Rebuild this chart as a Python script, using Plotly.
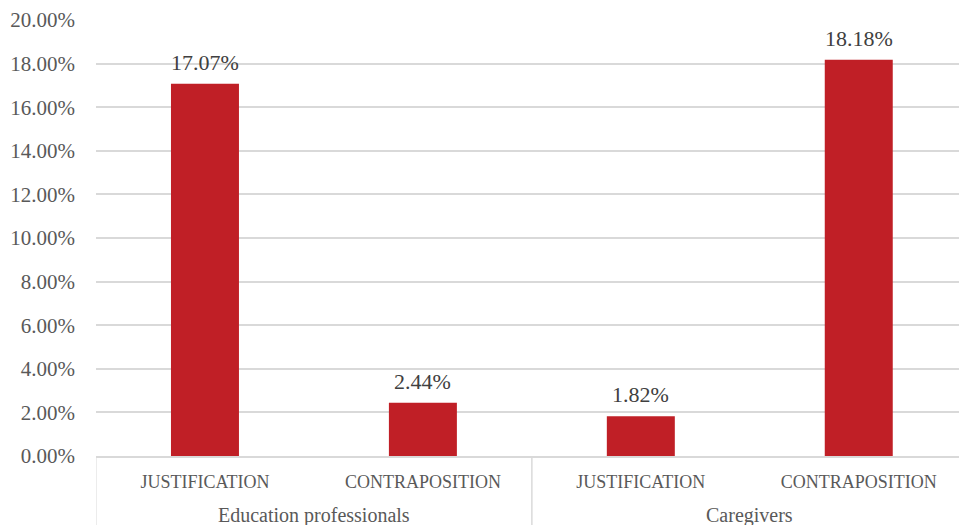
import plotly.graph_objects as go

# Share of responses by respondent group and argument type
groups = ["Education professionals", "Caregivers"]
categories = ["JUSTIFICATION", "CONTRAPOSITION", "JUSTIFICATION", "CONTRAPOSITION"]
group_of_bar = [0, 0, 1, 1]
values = [17.07, 2.44, 1.82, 18.18]
y_ticks = [0, 2, 4, 6, 8, 10, 12, 14, 16, 18, 20]

BAR_COLOR = "#C01F26"
TEXT_COLOR = "#595959"
GRID_COLOR = "#D9D9D9"
FONT = "Liberation Serif"

positions = list(range(len(values)))

fig = go.Figure(
    go.Bar(
        x=positions,
        y=values,
        marker=dict(color=BAR_COLOR, line=dict(width=0)),
        hoverinfo="skip",
    )
)

# Value labels above each bar
for x, v in zip(positions, values):
    fig.add_annotation(
        x=x,
        y=v,
        text=f"{v:.2f}%",
        showarrow=False,
        yanchor="bottom",
        yshift=7,
        font=dict(family=FONT, size=22, color="#404040"),
    )

# Group labels and dividers below the category labels
for g, name in enumerate(groups):
    members = [p for p, k in zip(positions, group_of_bar) if k == g]
    fig.add_annotation(
        x=sum(members) / len(members),
        xref="x",
        y=0,
        yref="paper",
        yanchor="middle",
        yshift=-59,
        text=name,
        showarrow=False,
        font=dict(family=FONT, size=20, color=TEXT_COLOR),
    )
    for edge in (members[0] - 0.5, members[-1] + 0.5):
        fig.add_shape(
            type="line",
            xref="x",
            yref="paper",
            x0=edge,
            x1=edge,
            y0=0,
            y1=-0.2,
            line=dict(color=GRID_COLOR, width=1),
        )

fig.update_layout(
    width=959,
    height=525,
    margin=dict(l=96, r=0, t=20, b=69),
    paper_bgcolor="white",
    plot_bgcolor="white",
    bargap=0.688,
    showlegend=False,
    font=dict(family=FONT, size=18, color=TEXT_COLOR),
)

fig.update_xaxes(
    range=[-0.5, 3.46],
    tickvals=positions,
    ticktext=categories,
    showline=True,
    linecolor=GRID_COLOR,
    linewidth=2,
    ticks="",
    showgrid=False,
    zeroline=False,
    ticklabelstandoff=8,
    tickfont=dict(family=FONT, size=18, color=TEXT_COLOR),
)

fig.update_yaxes(
    range=[0, 20],
    tickvals=y_ticks,
    ticktext=[f"{t:.2f}%" for t in y_ticks],
    showgrid=True,
    gridcolor=GRID_COLOR,
    gridwidth=1.5,
    zeroline=False,
    showline=False,
    ticks="",
    ticklabelstandoff=20,
    tickfont=dict(family=FONT, size=21, color=TEXT_COLOR),
)

fig.write_html("out.html")
